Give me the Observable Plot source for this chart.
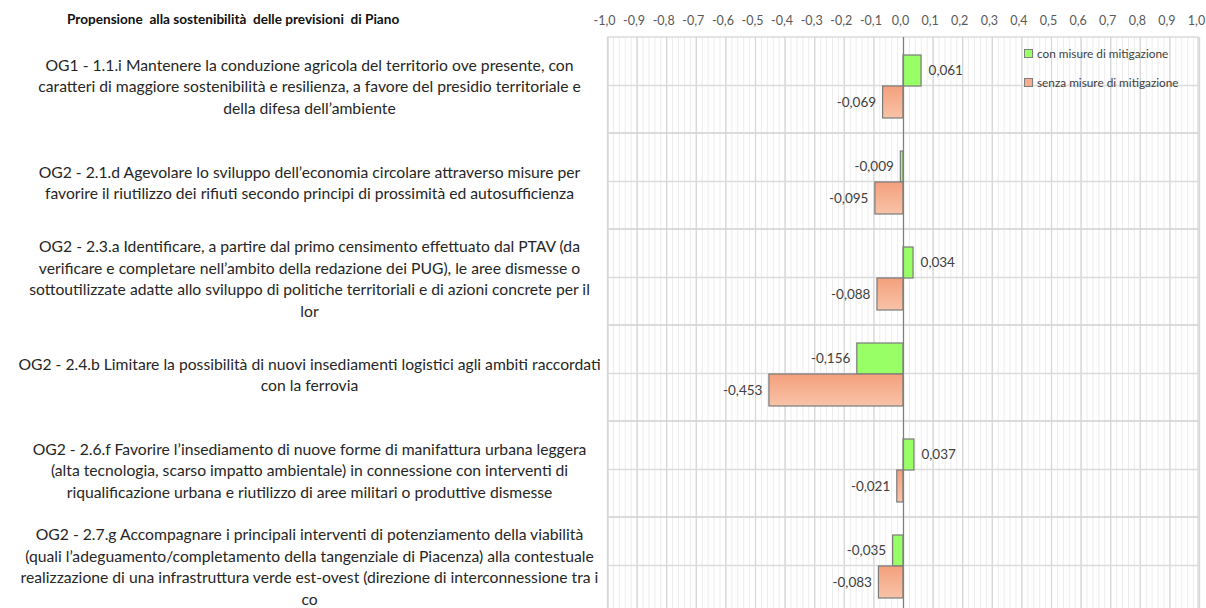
<!DOCTYPE html>
<html>
<head>
<meta charset="utf-8">
<script src="https://cdn.jsdelivr.net/npm/d3@7"></script>
<script src="https://cdn.jsdelivr.net/npm/@observablehq/plot@0.6"></script>
<style>
  html, body { margin: 0; padding: 0; background: #fff; width: 1206px; height: 608px; overflow: hidden; }
  #wrap { position: relative; width: 1206px; height: 608px; }
  #title { position: absolute; left: 67px; top: 11px; font: bold 13.6px Lato, "Open Sans", sans-serif; color: #111; white-space: pre; }
  #legend { position: absolute; left: 1024px; top: 45px; font: 11.8px Lato, sans-serif; color: #404040; }
  #legend div { display: flex; align-items: center; height: 16px; margin-bottom: 13px; white-space: nowrap; }
  #legend span.sw { display: inline-block; width: 7px; height: 7px; border: 1px solid #7f7f7f; margin-right: 4px; }
</style>
</head>
<body>
<div id="wrap">
  <div id="chart"></div>
  <div id="title"></div>
  <div id="legend"></div>
</div>
<script>
const title = "Propensione  alla sostenibilità  delle previsioni  di Piano";
const categories = [
  "OG1 - 1.1.i Mantenere la conduzione agricola del territorio ove presente, con\ncaratteri di maggiore sostenibilità e resilienza, a favore del presidio territoriale e\ndella difesa dell’ambiente",
  "OG2 - 2.1.d Agevolare lo sviluppo dell’economia circolare attraverso misure per\nfavorire il riutilizzo dei rifiuti secondo principi di prossimità ed autosufficienza",
  "OG2 - 2.3.a Identificare, a partire dal primo censimento effettuato dal PTAV (da\nverificare e completare nell’ambito della redazione dei PUG), le aree dismesse o\nsottoutilizzate adatte allo sviluppo di politiche territoriali e di azioni concrete per il\nlor",
  "OG2 - 2.4.b Limitare la possibilità di nuovi insediamenti logistici agli ambiti raccordati\ncon la ferrovia",
  "OG2 - 2.6.f Favorire l’insediamento di nuove forme di manifattura urbana leggera\n(alta tecnologia, scarso impatto ambientale) in connessione con interventi di\nriqualificazione urbana e riutilizzo di aree militari o produttive dismesse",
  "OG2 - 2.7.g Accompagnare i principali interventi di potenziamento della viabilità\n(quali l’adeguamento/completamento della tangenziale di Piacenza) alla contestuale\nrealizzazione di una infrastruttura verde est-ovest (direzione di interconnessione tra i\nco"
];
const seriesNames = ["con misure di mitigazione", "senza misure di mitigazione"];
const conValues = [0.061, -0.009, 0.034, -0.156, 0.037, -0.035];
const senzaValues = [-0.069, -0.095, -0.088, -0.453, -0.021, -0.083];
const xTicks = [-1.0, -0.9, -0.8, -0.7, -0.6, -0.5, -0.4, -0.3, -0.2, -0.1, 0.0, 0.1, 0.2, 0.3, 0.4, 0.5, 0.6, 0.7, 0.8, 0.9, 1.0];
const colors = ["#99ff66", "url(#salmonGrad)"];
const swatchColors = ["#99ff66", "#f5ad8c"];

const loc = d3.formatLocale({decimal: ",", thousands: ".", grouping: [3], currency: ["", "€"], minus: "-"});
const fmt1 = loc.format(".1f");
const fmt3 = loc.format(".3f");

const conData = categories.map((c, i) => ({cat: c, value: conValues[i]}));
const senzaData = categories.map((c, i) => ({cat: c, value: senzaValues[i]}));
const minorTicks = d3.range(-50, 51).map(k => k / 50);

const labelStyle = {fontSize: 13.5, fill: "#404040"};

const chart = Plot.plot({
  width: 1206,
  height: 608,
  marginTop: 37,
  marginLeft: 608,
  marginRight: 8,
  marginBottom: 0,
  style: {fontFamily: "Lato, sans-serif", background: "#fff", overflow: "visible"},
  x: {domain: [-1, 1], range: [607, 1199]},
  y: {domain: categories, range: [37, 613], padding: 0},
  marks: [
    Plot.ruleX(minorTicks, {stroke: "#ececec", strokeWidth: 1}),
    Plot.ruleX(xTicks, {stroke: "#d6d6d6", strokeWidth: 1.3}),
    Plot.ruleY(categories, {stroke: "#dcdcdc", strokeWidth: 1.3}),
    Plot.cell(categories, {y: d => d, fill: "none", stroke: "#d6d6d6", strokeWidth: 1.3, inset: 0}),
    Plot.axisX({anchor: "top", ticks: xTicks, tickFormat: fmt1, tickSize: 0, tickPadding: 13, dx: -3, fontSize: 12.5, fill: "#595959", label: null}),
    Plot.axisY({anchor: "left", tickSize: 0, tickPadding: 0, dx: -299, textAnchor: "middle", lineAnchor: "middle", fontSize: 15.7, fill: "#262626", lineHeight: 1.37, label: null, tickFormat: d => d}),
    Plot.barX(conData, {x: "value", y: "cat", fill: colors[0], stroke: "#7a7a7a", strokeWidth: 1.2, insetTop: 18, insetBottom: 47}),
    Plot.barX(senzaData, {x: "value", y: "cat", fill: colors[1], stroke: "#7a7a7a", strokeWidth: 1.2, insetTop: 49, insetBottom: 15}),
    Plot.ruleX([0], {stroke: "#7f7f7f", strokeWidth: 1.2}),
    Plot.text(conData, {x: "value", y: "cat", text: d => fmt3(d.value), dy: -15, textAnchor: "start", ...labelStyle, filter: d => d.value >= 0}),
    Plot.text(conData, {x: "value", y: "cat", text: d => fmt3(d.value), dy: -15, textAnchor: "end", ...labelStyle, filter: d => d.value < 0}),
    Plot.text(senzaData, {x: "value", y: "cat", text: d => fmt3(d.value), dy: 17, textAnchor: "end", ...labelStyle, filter: d => d.value < 0}),
    Plot.text(senzaData, {x: "value", y: "cat", text: d => fmt3(d.value), dy: 17, textAnchor: "start", ...labelStyle, filter: d => d.value >= 0})
  ]
});

// horizontal offsets for value labels (start anchored -> right, end anchored -> left)
d3.select(chart).selectAll("g[aria-label='text']").each(function() {
  const anchor = this.getAttribute("text-anchor");
  d3.select(this).selectAll("text").attr("dx", anchor === "end" ? -7 : 7);
});

// gradient for salmon bars
const defs = d3.select(chart).insert("defs", ":first-child");
const g = defs.append("linearGradient").attr("id", "salmonGrad").attr("x1", 0).attr("y1", 0).attr("x2", 0).attr("y2", 1);
g.append("stop").attr("offset", "0%").attr("stop-color", "#f4a07c");
g.append("stop").attr("offset", "100%").attr("stop-color", "#f8c3a8");

document.getElementById("chart").appendChild(chart);
document.getElementById("title").textContent = title;
const legend = d3.select("#legend");
seriesNames.forEach((s, i) => {
  const row = legend.append("div");
  row.append("span").attr("class", "sw").style("background", swatchColors[i]);
  row.append("span").text(s);
});
</script>
</body>
</html>
